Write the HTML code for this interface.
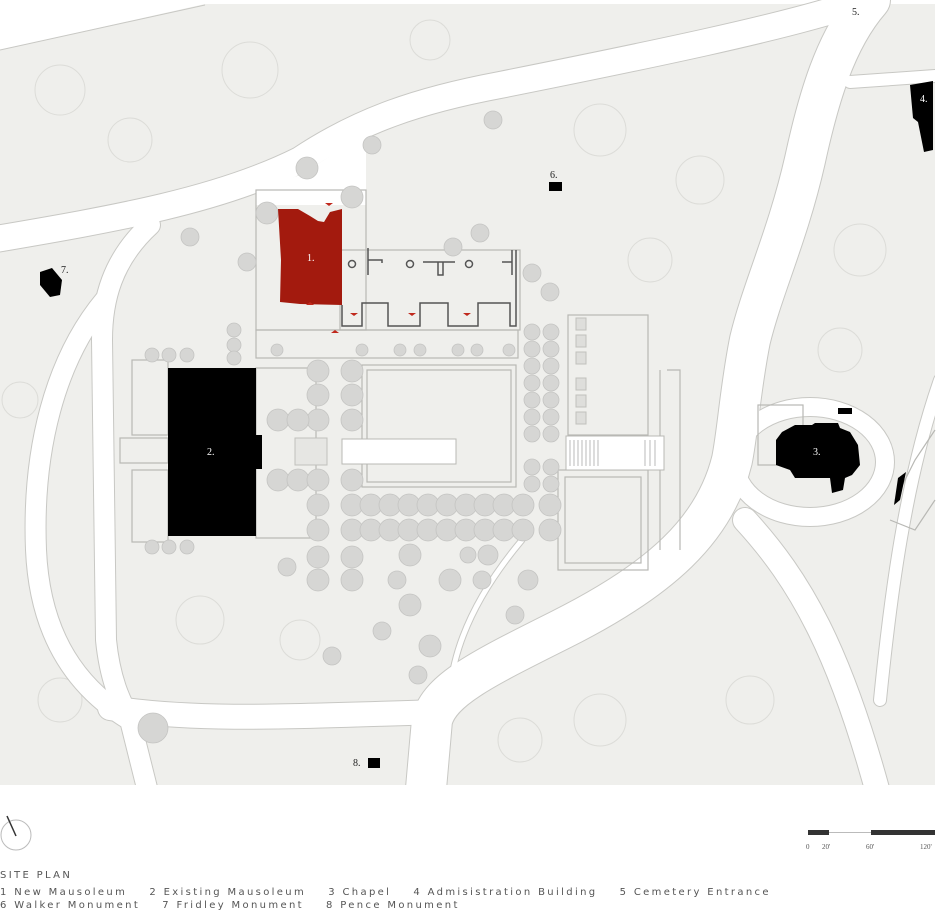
<!DOCTYPE html>
<html><head><meta charset="utf-8"><style>
html,body{margin:0;padding:0;background:#fff;}
svg{display:block;font-family:"Liberation Sans",sans-serif;}
.leg{font-family:"DejaVu Sans","Liberation Sans",sans-serif;font-size:10px;letter-spacing:2.35px;fill:#555;}
</style></head><body>
<svg width="940" height="916" viewBox="0 0 940 916" xmlns="http://www.w3.org/2000/svg">
<rect x="0" y="4" width="935" height="781" fill="#efefec"/>
<path d="M0,0 L210,0 L205,4 L0,50 Z" fill="#fff"/>
<path d="M0,50 L205,5" stroke="#c8c8c4" fill="none"/>
<g fill="none" stroke="#dcdcd8" stroke-width="1">
<circle cx="60" cy="90" r="25"/><circle cx="130" cy="140" r="22"/><circle cx="250" cy="70" r="28"/><circle cx="430" cy="40" r="20"/>
<circle cx="600" cy="130" r="26"/><circle cx="700" cy="180" r="24"/><circle cx="650" cy="260" r="22"/><circle cx="860" cy="250" r="26"/>
<circle cx="840" cy="350" r="22"/><circle cx="200" cy="620" r="24"/><circle cx="300" cy="640" r="20"/><circle cx="600" cy="720" r="26"/>
<circle cx="750" cy="700" r="24"/><circle cx="520" cy="740" r="22"/><circle cx="20" cy="400" r="18"/><circle cx="60" cy="700" r="22"/>
</g>
<g fill="none" stroke-linecap="round">
<g stroke="#c8c8c4">
<path d="M-10,240 C120,218 220,200 300,160 C360,120 420,100 500,85 C650,55 780,28 850,5" stroke-width="28"/>
<path d="M870,0 C835,40 818,100 805,160 C788,235 762,290 750,340 C740,390 738,430 732,460 C715,530 660,580 560,630 C480,670 440,690 432,720 L425,800" stroke-width="42"/>
<path d="M150,225 C112,260 102,300 102,340 L106,640 C110,680 120,700 130,720" stroke-width="22"/>
<path d="M105,300 C55,360 32,450 36,550 C40,640 80,690 130,720 L150,800" stroke-width="22"/>
<path d="M110,708 C200,722 300,716 440,712" stroke-width="26"/>
<path d="M745,520 C800,580 840,650 880,800" stroke-width="26"/>
<path d="M940,380 C905,480 890,600 880,700" stroke-width="14"/>
<path d="M850,82 L935,76" stroke-width="14"/>
<ellipse cx="810" cy="462" rx="75" ry="55" stroke-width="20"/>
<path d="M522,540 C480,590 455,640 450,690" stroke-width="7"/>
</g>
<g stroke="#ffffff">
<path d="M-10,240 C120,218 220,200 300,160 C360,120 420,100 500,85 C650,55 780,28 850,5" stroke-width="26"/>
<path d="M870,0 C835,40 818,100 805,160 C788,235 762,290 750,340 C740,390 738,430 732,460 C715,530 660,580 560,630 C480,670 440,690 432,720 L425,800" stroke-width="40"/>
<path d="M150,225 C112,260 102,300 102,340 L106,640 C110,680 120,700 130,720" stroke-width="20"/>
<path d="M105,300 C55,360 32,450 36,550 C40,640 80,690 130,720 L150,800" stroke-width="20"/>
<path d="M110,708 C200,722 300,716 440,712" stroke-width="24"/>
<path d="M745,520 C800,580 840,650 880,800" stroke-width="24"/>
<path d="M940,380 C905,480 890,600 880,700" stroke-width="12"/>
<path d="M850,82 L935,76" stroke-width="12"/>
<ellipse cx="810" cy="462" rx="75" ry="55" stroke-width="18"/>
<path d="M522,540 C480,590 455,640 450,690" stroke-width="5"/>
</g>
</g>
<path d="M256,190 L300,175 L340,150 L360,140 L366,135 L366,205 L256,205 Z" fill="#fff"/>
<rect x="935" y="0" width="5" height="785" fill="#fff"/>
<rect x="0" y="785" width="940" height="131" fill="#fff"/>
<g fill="none" stroke="#b8b8b4" stroke-width="1.2">
<rect x="256" y="190" width="110" height="140"/>
<rect x="340" y="250" width="180" height="80"/>
<rect x="256" y="330" width="262" height="28"/>
<rect x="362" y="365" width="154" height="122"/>
<rect x="367" y="370" width="144" height="112"/>
<rect x="568" y="315" width="80" height="120"/>
<rect x="558" y="470" width="90" height="100"/>
<rect x="565" y="477" width="76" height="86"/>
<rect x="132" y="360" width="36" height="75"/>
<rect x="132" y="470" width="36" height="72"/>
<rect x="120" y="438" width="48" height="25"/>
<rect x="256" y="368" width="60" height="170"/>
<path d="M660,370 L660,550 M667,370 L680,370 L680,550"/>
<rect x="758" y="405" width="45" height="60"/>
<path d="M895,500 L915,460 L935,430 M890,520 L915,530 L935,500"/>
</g>
<rect x="566" y="436" width="98" height="34" fill="#fff" stroke="#b8b8b4"/>
<g stroke="#aaa" stroke-width="0.8">
<path d="M570,440 V466 M574,440 V466 M578,440 V466 M582,440 V466 M586,440 V466 M590,440 V466 M594,440 V466 M598,440 V466 M645,440 V466 M650,440 V466 M655,440 V466"/>
</g>
<rect x="342" y="439" width="114" height="25" fill="#fff" stroke="#b8b8b4"/>
<rect x="295" y="438" width="32" height="27" fill="#e6e6e3" stroke="#c0c0bc"/>
<g fill="#dededb" stroke="#c0c0bc">
<rect x="576" y="318" width="10" height="12"/><rect x="576" y="335" width="10" height="12"/><rect x="576" y="352" width="10" height="12"/>
<rect x="576" y="378" width="10" height="12"/><rect x="576" y="395" width="10" height="12"/><rect x="576" y="412" width="10" height="12"/>
</g>
<path d="M342,305 V326 H362 V303 H388 V326 H420 V303 H448 V326 H478 V303 H510 V326 H516 V250" fill="none" stroke="#555" stroke-width="1.5"/>
<g stroke="#555" stroke-width="1.5" fill="none">
<path d="M368,248 V275 M368,260 H382 V263"/>
<path d="M423,262 H455 M438,262 V275 H443 V262"/>
<path d="M512,250 V275 M502,262 H512"/>
<circle cx="352" cy="264" r="3.5"/><circle cx="410" cy="264" r="3.5"/><circle cx="469" cy="264" r="3.5"/>
</g>
<g fill="#d6d6d4" stroke="#c4c4c2" stroke-width="0.8">
<circle cx="267" cy="213" r="11"/><circle cx="352" cy="197" r="11"/><circle cx="190" cy="237" r="9"/><circle cx="247" cy="262" r="9"/>
<circle cx="453" cy="247" r="9"/><circle cx="480" cy="233" r="9"/><circle cx="532" cy="273" r="9"/><circle cx="550" cy="292" r="9"/>
<circle cx="307" cy="168" r="11"/><circle cx="372" cy="145" r="9"/><circle cx="493" cy="120" r="9"/>
<circle cx="152" cy="355" r="7"/><circle cx="169" cy="355" r="7"/><circle cx="187" cy="355" r="7"/>
<circle cx="152" cy="547" r="7"/><circle cx="169" cy="547" r="7"/><circle cx="187" cy="547" r="7"/>
<circle cx="234" cy="330" r="7"/><circle cx="234" cy="345" r="7"/><circle cx="234" cy="358" r="7"/>
<circle cx="318" cy="371" r="11"/><circle cx="318" cy="395" r="11"/><circle cx="318" cy="420" r="11"/>
<circle cx="278" cy="420" r="11"/><circle cx="298" cy="420" r="11"/>
<circle cx="352" cy="371" r="11"/><circle cx="352" cy="395" r="11"/><circle cx="352" cy="420" r="11"/>
<circle cx="278" cy="480" r="11"/><circle cx="298" cy="480" r="11"/><circle cx="318" cy="480" r="11"/><circle cx="352" cy="480" r="11"/>
<circle cx="318" cy="505" r="11"/><circle cx="318" cy="530" r="11"/>
<circle cx="352" cy="505" r="11"/><circle cx="371" cy="505" r="11"/><circle cx="390" cy="505" r="11"/><circle cx="409" cy="505" r="11"/><circle cx="428" cy="505" r="11"/><circle cx="447" cy="505" r="11"/><circle cx="466" cy="505" r="11"/><circle cx="485" cy="505" r="11"/><circle cx="504" cy="505" r="11"/><circle cx="523" cy="505" r="11"/><circle cx="550" cy="505" r="11"/>
<circle cx="352" cy="530" r="11"/><circle cx="371" cy="530" r="11"/><circle cx="390" cy="530" r="11"/><circle cx="409" cy="530" r="11"/><circle cx="428" cy="530" r="11"/><circle cx="447" cy="530" r="11"/><circle cx="466" cy="530" r="11"/><circle cx="485" cy="530" r="11"/><circle cx="504" cy="530" r="11"/><circle cx="523" cy="530" r="11"/><circle cx="550" cy="530" r="11"/>
<circle cx="318" cy="557" r="11"/><circle cx="352" cy="557" r="11"/><circle cx="318" cy="580" r="11"/><circle cx="352" cy="580" r="11"/>
<circle cx="532" cy="332" r="8"/><circle cx="532" cy="349" r="8"/><circle cx="532" cy="366" r="8"/><circle cx="532" cy="383" r="8"/><circle cx="532" cy="400" r="8"/><circle cx="532" cy="417" r="8"/><circle cx="532" cy="434" r="8"/><circle cx="532" cy="467" r="8"/><circle cx="532" cy="484" r="8"/>
<circle cx="551" cy="332" r="8"/><circle cx="551" cy="349" r="8"/><circle cx="551" cy="366" r="8"/><circle cx="551" cy="383" r="8"/><circle cx="551" cy="400" r="8"/><circle cx="551" cy="417" r="8"/><circle cx="551" cy="434" r="8"/><circle cx="551" cy="467" r="8"/><circle cx="551" cy="484" r="8"/>
<circle cx="277" cy="350" r="6"/><circle cx="362" cy="350" r="6"/><circle cx="400" cy="350" r="6"/><circle cx="420" cy="350" r="6"/><circle cx="458" cy="350" r="6"/><circle cx="477" cy="350" r="6"/><circle cx="509" cy="350" r="6"/>
<circle cx="410" cy="555" r="11"/><circle cx="468" cy="555" r="8"/><circle cx="488" cy="555" r="10"/><circle cx="397" cy="580" r="9"/><circle cx="450" cy="580" r="11"/><circle cx="482" cy="580" r="9"/><circle cx="528" cy="580" r="10"/>
<circle cx="410" cy="605" r="11"/><circle cx="515" cy="615" r="9"/><circle cx="287" cy="567" r="9"/><circle cx="382" cy="631" r="9"/><circle cx="430" cy="646" r="11"/><circle cx="332" cy="656" r="9"/><circle cx="418" cy="675" r="9"/><circle cx="153" cy="728" r="15"/>
</g>
<path d="M278,209 L298,209 L310,216 L318,221 L324,222 L330,212 L342,209 L342,305 L300,304 L280,302 L281,260 Z" fill="#a31a0e"/>
<g fill="#c0281c"><path d="M325,203 h8 l-4,3z"/><path d="M306,305 h8 l-4,-3z"/><path d="M350,313 h8 l-4,3z"/><path d="M408,313 h8 l-4,3z"/><path d="M463,313 h8 l-4,3z"/><path d="M331,333 h8 l-4,-3z"/></g>
<rect x="168" y="368" width="88" height="168" fill="#000"/>
<rect x="256" y="435" width="6" height="34" fill="#000"/>
<path d="M782,432 L795,425 L812,425 L815,423 L838,423 L840,428 L850,432 L858,445 L860,465 L852,475 L845,478 L843,490 L832,493 L830,478 L795,478 L790,470 L776,465 L776,440 Z" fill="#000"/>
<rect x="838" y="408" width="14" height="6" fill="#000"/>
<path d="M910,85 L933,81 L933,150 L924,152 L918,122 L913,118 Z" fill="#000"/>
<path d="M40,272 L52,268 L62,280 L60,295 L50,297 L40,285 Z" fill="#000"/>
<rect x="549" y="182" width="13" height="9" fill="#000"/>
<rect x="368" y="758" width="12" height="10" fill="#000"/>
<path d="M898,478 L906,472 L900,500 L894,505 Z" fill="#000"/>
<g font-size="10" font-family="Liberation Serif,serif">
<text x="307" y="261" fill="#fff">1.</text>
<text x="207" y="455" fill="#fff">2.</text>
<text x="813" y="455" fill="#fff">3.</text>
<text x="920" y="102" fill="#fff">4.</text>
<text x="852" y="15" fill="#222">5.</text>
<text x="550" y="178" fill="#222">6.</text>
<text x="61" y="273" fill="#222">7.</text>
<text x="353" y="766" fill="#222">8.</text>
</g>
<circle cx="16" cy="835" r="15" fill="none" stroke="#bbb" stroke-width="1"/>
<line x1="7" y1="816" x2="16" y2="836" stroke="#333" stroke-width="1.5"/>
<rect x="808" y="830" width="21" height="5" fill="#333"/>
<line x1="829" y1="832.5" x2="871" y2="832.5" stroke="#bbb"/>
<rect x="871" y="830" width="64" height="5" fill="#333"/>
<g font-size="7" fill="#555" font-family="Liberation Serif,serif">
<text x="806" y="849">0</text><text x="822" y="849">20'</text><text x="866" y="849">60'</text><text x="920" y="849">120'</text>
</g>
<text class="leg" x="0" y="878" font-size="11">SITE PLAN</text>
<text class="leg" x="0" y="895">1 New Mausoleum &#160;&#160; 2 Existing Mausoleum &#160;&#160; 3 Chapel &#160;&#160; 4 Admisistration Building &#160;&#160; 5 Cemetery Entrance</text>
<text class="leg" x="0" y="908">6 Walker Monument &#160;&#160; 7 Fridley Monument &#160;&#160; 8 Pence Monument</text>
</svg>
</body></html>
